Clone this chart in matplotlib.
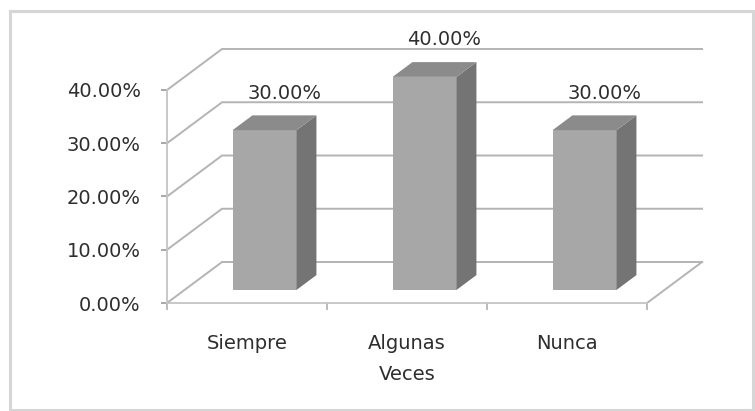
import matplotlib
matplotlib.use("Agg")
import matplotlib.pyplot as plt
from matplotlib.patches import Rectangle, Polygon
from matplotlib.ticker import FuncFormatter

# Survey response shares (percent)
categories = ["Siempre", "Algunas\nVeces", "Nunca"]
values = [30.0, 40.0, 30.0]
y_ticks = [0, 10, 20, 30, 40]

W, H, DPI = 755, 411, 100
fig = plt.figure(figsize=(W / DPI, H / DPI), dpi=DPI)
fig.patch.set_facecolor("white")

text_c = "#2e2e2e"

# Chart-area frame
fig.patches.append(Rectangle((10 / W, 1 / H), 743 / W, 399 / H,
                             transform=fig.transFigure, fill=False,
                             edgecolor="#d6d6d6", linewidth=2.2))

# Front plane of the 3-D box
ax = fig.add_axes([167 / W, 108 / H, 480 / W, 213 / H])
ax.set_xlim(-0.5, 2.5)
ax.set_ylim(0, 40)
ax.set_facecolor("none")

# Oblique depth vector of the box (category units, percent units)
DX, DY = 0.344, 7.7
f0, f1 = 0.32, 0.68          # bar front / back depth fraction
bar_w = 0.4

grid_c = "#b4b4b4"
# side wall + back wall gridlines
for t in y_ticks:
    ax.plot([-0.5, -0.5 + DX, 2.5 + DX], [t, t + DY, t + DY],
            color=grid_c, lw=1.4, clip_on=False, zorder=1,
            solid_joinstyle="miter")
# right edge of the floor
ax.plot([2.5, 2.5 + DX], [0, DY], color=grid_c, lw=1.4,
        clip_on=False, zorder=1)

front_c, top_c, side_c = "#a7a7a7", "#8b8b8b", "#747474"
xs = list(range(len(values)))
bars = ax.bar([x + f0 * DX for x in xs], values, width=bar_w,
              bottom=f0 * DY, color=front_c, edgecolor="none",
              zorder=3, clip_on=False)
ddx, ddy = (f1 - f0) * DX, (f1 - f0) * DY
for x, v in zip(xs, values):
    xl = x + f0 * DX - bar_w / 2
    xr = xl + bar_w
    yb = f0 * DY
    yt = yb + v
    ax.add_patch(Polygon([(xr, yb), (xr + ddx, yb + ddy),
                          (xr + ddx, yt + ddy), (xr, yt)],
                         closed=True, facecolor=side_c, edgecolor="none",
                         zorder=3, clip_on=False))
    ax.add_patch(Polygon([(xl, yt), (xr, yt), (xr + ddx, yt + ddy),
                          (xl + ddx, yt + ddy)],
                         closed=True, facecolor=top_c, edgecolor="none",
                         zorder=3, clip_on=False))
    ax.annotate(f"{v:.2f}%", xy=(x + f1 * DX, v + f1 * DY),
                xytext=(0, 16), textcoords="offset points",
                ha="center", va="center", fontsize=14,
                color=text_c, zorder=4, annotation_clip=False)

# spines: front vertical axis and front floor edge
for s in ["top", "right"]:
    ax.spines[s].set_visible(False)
for s in ["left", "bottom"]:
    ax.spines[s].set_color("#c4c4c4")
    ax.spines[s].set_linewidth(1.3)

ax.set_yticks(y_ticks)
ax.yaxis.set_major_formatter(FuncFormatter(lambda v, p: f"{v:.2f}%"))
ax.tick_params(axis="y", length=4, width=1.2, color="#9a9a9a",
               pad=15, labelsize=14, labelcolor=text_c)

ax.set_xticks(xs)
ax.set_xticklabels(categories)
ax.set_xticks([-0.5, 0.5, 1.5, 2.5], minor=True)
ax.tick_params(axis="x", which="major", length=0, pad=22,
               labelsize=14, labelcolor=text_c)
ax.tick_params(axis="x", which="minor", length=5, width=1.2,
               color="#b0b0b0")
for lab in ax.get_xticklabels():
    lab.set_linespacing(1.8)

fig.savefig("out.png", dpi=DPI, facecolor="white")
